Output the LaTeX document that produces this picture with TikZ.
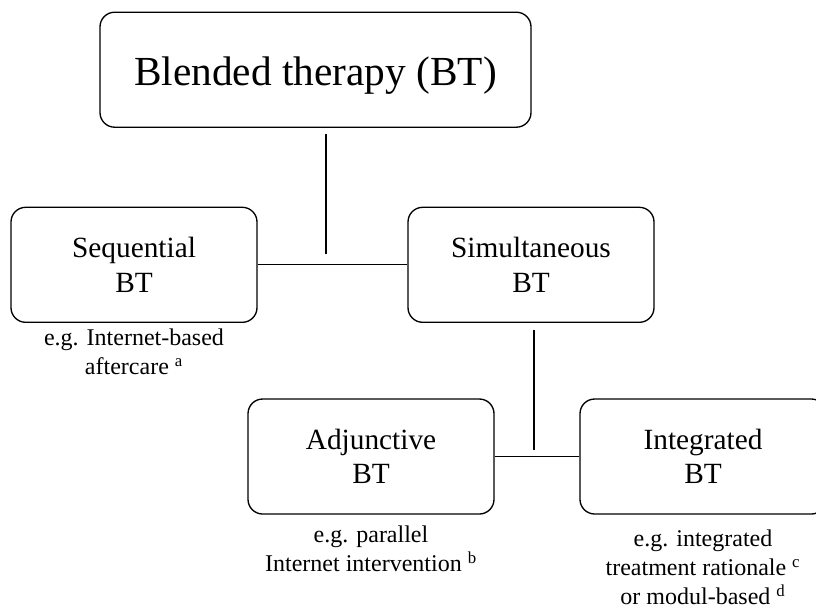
\documentclass[tikz,border=0pt]{standalone}
\usepackage{fontspec}
\setmainfont{Liberation Serif}
\begin{document}
\begin{tikzpicture}[x=0.75pt,y=-0.75pt,
  box/.style={draw, line width=1pt, rounded corners=11pt, minimum width=184.5pt,
    minimum height=86.25pt, inner sep=0pt, align=center,
    font=\fontsize{22}{26}\selectfont},
  note/.style={align=center, inner sep=0pt, anchor=north,
    font=\fontsize{18}{21.75}\selectfont},
  link/.style={line width=0.8pt}]
\useasboundingbox (0,0) rectangle (816,612);
\clip (0,0) rectangle (816,612);
\node[box, minimum width=323.25pt, font=\fontsize{31}{37}\selectfont,
  text height=22.95pt, text depth=0pt] (top) at (315.5,69.7) {Blended therapy (BT)};
\node[box] (seq) at (134,264.8) {Sequential\\BT};
\node[box] (sim) at (531,264.8) {Simultaneous\\BT};
\node[box] (adj) at (371,456.5) {Adjunctive\\BT};
\node[box] (int) at (703,456.5) {Integrated\\BT};
\node[note] (nseq) at (134,328.6) {e.g. Internet-based\\aftercare \textsuperscript{a}};
\node[note] (nadj) at (371,525.6) {e.g. parallel\\Internet intervention \textsuperscript{b}};
\node[note] (nint) at (703,529.6) {e.g. integrated\\treatment rationale \textsuperscript{c}\\or modul-based \textsuperscript{d}};
\coordinate (t1) at (326,134);
\coordinate (t2) at (326,254);
\coordinate (s1) at (534,330);
\coordinate (s2) at (534,450);
\draw[link] (t1) -- (t2);
\draw[link] (seq.east) -- (sim.west);
\draw[link] (s1) -- (s2);
\draw[link] (adj.east) -- (int.west);
\end{tikzpicture}
\end{document}
